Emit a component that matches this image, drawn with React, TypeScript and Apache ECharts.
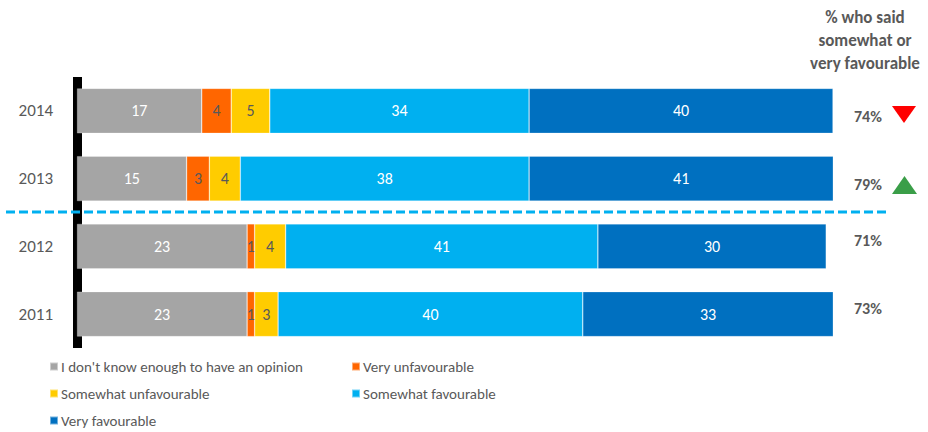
import React, { useEffect, useRef } from "react";
import * as echarts from "echarts";

const years = ["2014", "2013", "2012", "2011"];
const dontKnow = [16.5, 14.5, 22.5, 22.5];
const veryUnfav = [3.9, 3.0, 1.0, 1.0];
const somewhatUnfav = [5.1, 4.1, 4.1, 3.1];
const somewhatFav = [34.3, 38.2, 41.3, 40.3];
const veryFav = [40.2, 40.5, 30.2, 33.2];
const favourableShare = [74, 79, 71, 73];
const seriesNames = [
  "I don't know enough to have an opinion",
  "Very unfavourable",
  "Somewhat unfavourable",
  "Somewhat favourable",
  "Very favourable",
];
const headerText = "% who said\nsomewhat or\nvery favourable";

const FONT = "Carlito, Lato, sans-serif";
const GREY_TEXT = "#595959";

export default function App() {
  const ref = useRef<HTMLDivElement>(null);
  useEffect(() => {
    if (!ref.current) return;
    const chart = echarts.init(ref.current, null, { renderer: "svg" });
    const colors = ["#A5A5A5", "#FF6600", "#FFCC00", "#00B0F0", "#0070C0"];
    const labelColors = ["#FFFFFF", GREY_TEXT, GREY_TEXT, "#FFFFFF", "#FFFFFF"];
    const values = [dontKnow, veryUnfav, somewhatUnfav, somewhatFav, veryFav];
    const shiftStyles = ["dn", "dn", "up", "up"];

    const series = values.map((v, i) => ({
      name: seriesNames[i],
      type: "bar",
      stack: "total",
      barWidth: 45,
      data: v,
      itemStyle: { color: colors[i], borderColor: "rgba(255,255,255,0.45)", borderWidth: 0.6 },
      label: {
        show: true,
        position: "inside",
        color: labelColors[i],
        fontSize: 16,
        fontFamily: FONT,
        formatter: (p: any) => String(Math.round(p.value)),
      },
    }));

    const legendCommon = {
      orient: "vertical",
      top: 359,
      height: 73,
      padding: 0,
      icon: "rect",
      itemWidth: 8,
      itemHeight: 8,
      itemGap: 12,
      textStyle: { color: GREY_TEXT, fontSize: 15, fontFamily: FONT, padding: [0, 0, 0, -2] },
    };

    chart.setOption({
      animation: false,
      textStyle: { fontFamily: FONT },
      grid: { left: 77, right: 95, top: 77, height: 271 },
      xAxis: { type: "value", min: 0, max: 100, show: false },
      yAxis: [
        {
          type: "category",
          data: years,
          inverse: true,
          offset: 5,
          axisLine: { show: true, lineStyle: { color: "#000000", width: 9, cap: "butt" } },
          axisTick: { show: false },
          axisLabel: { color: GREY_TEXT, fontSize: 17, fontFamily: FONT, margin: 19 },
        },
        {
          type: "category",
          data: years,
          inverse: true,
          position: "right",
          axisLine: { show: false },
          axisTick: { show: false },
          axisLabel: {
            margin: 21,
            formatter: (_v: string, idx: number) =>
              `{${shiftStyles[idx]}|${favourableShare[idx]}%}`,
            rich: {
              dn: {
                color: GREY_TEXT,
                fontSize: 16,
                fontWeight: "bold",
                fontFamily: FONT,
                padding: [11, 0, 0, 0],
              },
              up: {
                color: GREY_TEXT,
                fontSize: 16,
                fontWeight: "bold",
                fontFamily: FONT,
                padding: [0, 0, 12, 0],
              },
            },
          },
        },
      ],
      legend: [
        { ...legendCommon, data: [seriesNames[0], seriesNames[2], seriesNames[4]], left: 49 },
        { ...legendCommon, data: [seriesNames[1], seriesNames[3]], left: 351 },
      ],
      graphic: [
        {
          type: "text",
          x: 865,
          y: 6,
          style: {
            text: headerText,
            textAlign: "center",
            fill: GREY_TEXT,
            fontSize: 17,
            fontWeight: "bold",
            fontFamily: FONT,
            lineHeight: 23,
          },
        },
        {
          type: "line",
          shape: { x1: 6, y1: 212, x2: 887, y2: 212 },
          style: { stroke: "#00B0F0", lineWidth: 3, lineDash: [9, 4] },
          z: 100,
        },
        {
          type: "polygon",
          shape: { points: [[892, 106], [916, 106], [904, 123]] },
          style: { fill: "#FF0000" },
        },
        {
          type: "polygon",
          shape: { points: [[892, 194], [917, 194], [904.5, 176]] },
          style: { fill: "#3A9E48" },
        },
      ],
      series,
    });
    return () => chart.dispose();
  }, []);
  return (
    <div
      ref={ref}
      style={{ position: "absolute", left: 0, top: 0, width: 928, height: 432 }}
    />
  );
}
